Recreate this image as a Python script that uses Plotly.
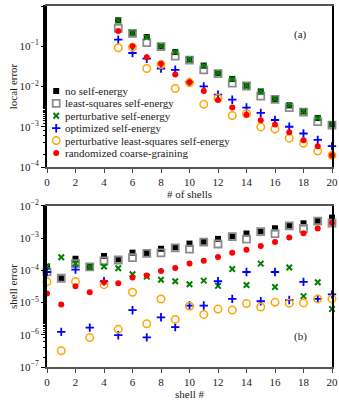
import plotly.graph_objects as go
from plotly.subplots import make_subplots

# ---- data ----
shells = list(range(5, 21))
no_se = [0.44, 0.218, 0.17, 0.1, 0.072, 0.047, 0.033, 0.0217, 0.0154, 0.0105,
         0.0075, 0.0049, 0.0034, 0.0024, 0.00165, 0.00115]
ls_se = [0.28, 0.21, 0.123, 0.098, 0.057, 0.045, 0.026, 0.021, 0.0122, 0.0103,
         0.0058, 0.0048, 0.003, 0.0023, 0.00134, 0.0011]
pert_se = [0.44, 0.215, 0.168, 0.1, 0.072, 0.047, 0.033, 0.0215, 0.0154, 0.0104,
           0.0075, 0.0049, 0.0034, 0.0024, 0.00165, 0.00115]
opt_se = [0.146, 0.068, 0.049, 0.028, 0.026, 0.0129, 0.0101, 0.0063, 0.0047, 0.003,
          0.0022, 0.00147, 0.001, 0.00068, 0.00047, 0.00033]
pls_se = [0.092, 0.095, 0.028, 0.035, 0.0089, 0.0125, 0.0036, 0.0051, 0.0019, 0.0021,
          0.00099, 0.00088, 0.00052, 0.00039, 0.00025, 0.000195]
rcg = [0.24, 0.1, 0.053, 0.037, 0.020, 0.0127, 0.0077, 0.0046, 0.003, 0.002,
       0.00145, 0.00113, 0.00073, 0.00046, 0.00033, 0.000195]

shell_idx = list(range(0, 21))
no_se_b = [1.3e-4, 5.7e-5, 2.3e-4, 1.28e-4, 2.8e-4, 2.2e-4, 3.56e-4, 3.5e-4, 4.7e-4, 5.2e-4,
           6.8e-4, 7.8e-4, 9.5e-4, 1.15e-3, 1.4e-3, 1.64e-3, 2.03e-3, 2.47e-3, 2.9e-3, 3.5e-3, 4.36e-3]
ls_se_b = [9e-5, 5.7e-5, 1.62e-4, 1.28e-4, 1.96e-4, 2.1e-4, 2.5e-4, 3.4e-4, 3.5e-4, 5.0e-4,
           4.6e-4, 7.6e-4, 6.6e-4, 1.12e-3, 9.3e-4, 1.6e-3, 1.38e-3, 2.4e-3, 2.0e-3, 3.4e-3, 2.95e-3]
pert_se_b = [1.34e-4, 2.55e-4, 1.6e-4, 1.28e-4, 1.32e-4, 1.16e-4, 7.6e-5, 6.4e-5, 5.1e-5, 4.6e-5,
             3.7e-5, 4.8e-5, 3.3e-5, 1.1e-4, 3.5e-5, 1.62e-4, 3.05e-5, 1.23e-4, 1.59e-5, 4.3e-5, 6.3e-6]
opt_se_b = [8.9e-5, 1.23e-6, 1.06e-4, 1.67e-6, 4.6e-5, 9.7e-7, 5.8e-6, 8.3e-7, 3.5e-6, 1.74e-6,
            8.1e-6, 8.1e-6, 4.6e-5, 1.3e-5, 8.9e-5, 1.1e-5, 8.9e-5, 1.2e-5, 4.4e-5, 1.3e-5, 1.8e-5]
pls_se_b = [4.4e-5, 3.2e-7, 4.5e-5, 8.2e-7, 3.6e-5, 1.48e-6, 2.1e-5, 2.2e-6, 1.3e-5, 3.0e-6,
            7.7e-6, 4.3e-6, 6.3e-6, 5.9e-6, 9.3e-6, 7.3e-6, 1.02e-5, 9.6e-6, 9.8e-6, 1.3e-5, 1.3e-5]
rcg_b = [1.9e-5, 8.8e-6, 3.2e-5, 2.1e-5, 4.3e-5, 4.0e-5, 6.0e-5, 6.9e-5, 9.5e-5, 1.19e-4,
         1.63e-4, 2.0e-4, 2.6e-4, 3.5e-4, 4.4e-4, 5.7e-4, 7.6e-4, 1.05e-3, 1.42e-3, 2.0e-3, 2.95e-3]

names = ["no self-energy", "least-squares self-energy", "perturbative self-energy",
         "optimized self-energy", "perturbative least-squares self-energy",
         "randomized coarse-graining"]

top_ticks = [1e-4, 1e-3, 1e-2, 1e-1, 1]
top_ticktext = ["10<sup>−4</sup>", "10<sup>−3</sup>", "10<sup>−2</sup>", "10<sup>−1</sup>", "10<sup>0</sup>"]
bot_ticks = [1e-7, 1e-6, 1e-5, 1e-4, 1e-3, 1e-2]
bot_ticktext = ["10<sup>−7</sup>", "10<sup>−6</sup>", "10<sup>−5</sup>", "10<sup>−4</sup>",
                "10<sup>−3</sup>", "10<sup>−2</sup>"]

# marker styles, in legend order
styles = [
    dict(symbol="square", size=6, color="black"),
    dict(symbol="square-open", size=7, color="#8c8c8c", line=dict(width=1.8, color="#8c8c8c")),
    dict(symbol="x-thin-open", size=5.5, color="#007f00", line=dict(width=2, color="#007f00")),
    dict(symbol="cross-thin-open", size=6, color="#0000ff", line=dict(width=1.8, color="#0000ff")),
    dict(symbol="circle-open", size=7.5, color="#ffa500", line=dict(width=1.5, color="#ffa500")),
    dict(symbol="circle", size=6, color="#ff0000"),
]

top_series = [no_se, ls_se, pert_se, opt_se, pls_se, rcg]
bot_series = [no_se_b, ls_se_b, pert_se_b, opt_se_b, pls_se_b, rcg_b]

FONT = "Liberation Serif, Times New Roman, serif"
TXT = "#222"

fig = make_subplots(rows=2, cols=1, vertical_spacing=0.108)

for name, st, ys in zip(names, styles, top_series):
    fig.add_trace(go.Scatter(x=shells, y=ys, mode="markers", name=name, marker=st,
                             cliponaxis=False, showlegend=False), row=1, col=1)
for name, st, ys in zip(names, styles, bot_series):
    fig.add_trace(go.Scatter(x=shell_idx, y=ys, mode="markers", name=name, marker=st,
                             cliponaxis=False, showlegend=False), row=2, col=1)

# hand-made legend on an invisible overlay axis (pixel-like units) over the top panel
leg_x = 56.5
leg_y0 = 90.7
leg_dy = 12.4
for i, (name, st) in enumerate(zip(names, styles)):
    fig.add_trace(go.Scatter(x=[leg_x], y=[leg_y0 + i * leg_dy], mode="markers",
                             marker=st, showlegend=False, cliponaxis=False,
                             xaxis="x3", yaxis="y3"))
    fig.add_annotation(x=leg_x + 7, y=leg_y0 + i * leg_dy, xref="x3", yref="y3",
                       text=name, showarrow=False, xanchor="left", yanchor="middle",
                       font=dict(size=11, family=FONT, color=TXT))

xcommon = dict(range=[0, 20], dtick=2, ticks="outside", ticklen=4, tickcolor="#444",
               showline=True, linecolor="#555", linewidth=2, mirror=True,
               showgrid=False, zeroline=False, automargin=False, ticklabeloverflow="allow",
               tickfont=dict(size=11, family=FONT, color=TXT))
ycommon = dict(type="log", ticks="outside", ticklen=4, tickcolor="black",
               showline=True, linecolor="black", linewidth=2, mirror=True,
               showgrid=False, zeroline=False, automargin=False,
               minor=dict(ticks="outside", ticklen=2.5, tickcolor="black", showgrid=False),
               tickfont=dict(size=11, family=FONT, color=TXT))

fig.update_xaxes(**xcommon, row=1, col=1)
fig.update_xaxes(**xcommon, row=2, col=1)
fig.update_yaxes(**ycommon, row=1, col=1)
fig.update_yaxes(**ycommon, row=2, col=1)
fig.update_xaxes(title=dict(text="# of shells", standoff=0, font=dict(size=11, family=FONT, color=TXT)),
                 row=1, col=1)
fig.update_xaxes(title=dict(text="shell #", standoff=0, font=dict(size=11, family=FONT, color=TXT)),
                 row=2, col=1)
fig.update_yaxes(range=[-4, 0], tickvals=top_ticks, ticktext=top_ticktext,
                 title=dict(text="local error", standoff=0, font=dict(size=11, family=FONT, color=TXT)),
                 row=1, col=1)
fig.update_yaxes(range=[-7, -2], tickvals=bot_ticks, ticktext=bot_ticktext,
                 title=dict(text="shell error", standoff=0, font=dict(size=11, family=FONT, color=TXT)),
                 row=2, col=1)

fig.update_layout(
    xaxis3=dict(overlaying="x", range=[47.3, 332.3], visible=False, anchor="y3"),
    yaxis3=dict(overlaying="y", range=[166.7, 5.7], visible=False, anchor="x3"),
)
fig.layout.yaxis.domain = [0.554, 1]
fig.layout.yaxis2.domain = [0, 0.446]

fig.add_annotation(x=0.92, y=0.945, xref="paper", yref="paper", text="(a)", showarrow=False,
                   font=dict(size=11, family=FONT, color=TXT))
fig.add_annotation(x=0.92, y=0.061, xref="paper", yref="paper", text="(b)", showarrow=False,
                   font=dict(size=11, family=FONT, color=TXT))

fig.update_layout(
    width=339, height=403,
    margin=dict(l=47, r=7, t=6, b=36),
    plot_bgcolor="white", paper_bgcolor="white",
    font=dict(family=FONT, size=11, color=TXT),
    showlegend=False,
)

# page body has a default 8px margin; drop it so the figure sits at the window corner
fig.write_html("out.html", config={"displayModeBar": False},
               post_script="document.body.style.margin='0px';")
